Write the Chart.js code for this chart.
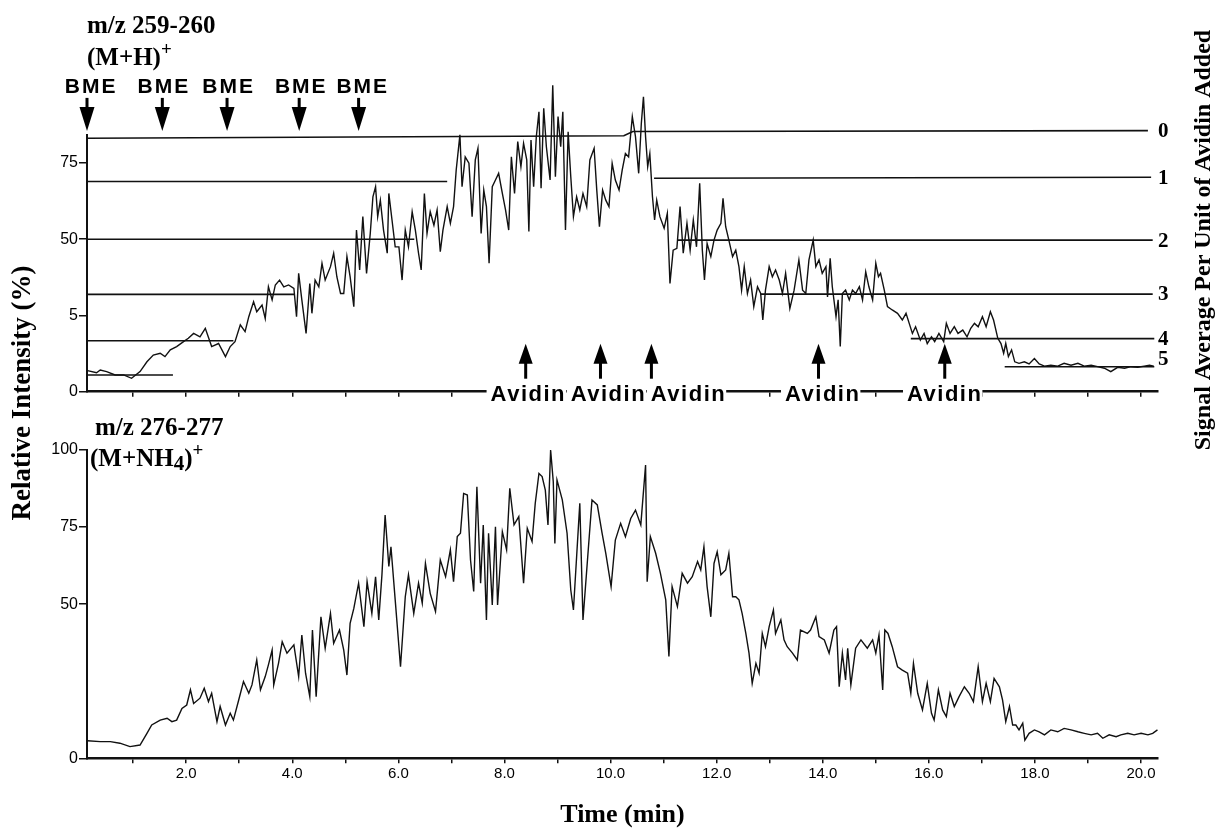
<!DOCTYPE html>
<html lang="en">
<head>
<meta charset="UTF-8">
<title>m/z 259-260 and 276-277 ion traces</title>
<script src="https://cdn.jsdelivr.net/npm/chart.js"></script>
<style>
  html, body { margin: 0; padding: 0; background: #fff; }
  #wrap { position: relative; width: 1215px; height: 829px; overflow: hidden; }
  #wrap canvas { position: absolute; left: 0; top: 0; }
</style>
</head>
<body>
<div id="wrap">
  <canvas id="bottomChart" width="1215" height="829"></canvas>
  <canvas id="topChart" width="1215" height="829"></canvas>
</div>
<script>
// time axis (min)
const timeMin = 0.13, timeMax = 20.32;
const timeTickValues = [1,2,3,4,5,6,7,8,9,10,11,12,13,14,15,16,17,18,19,20];
const timeTickLabels = ['','2.0','','4.0','','6.0','','8.0','','10.0','','12.0','','14.0','','16.0','','18.0','','20.0'];

// upper trace: m/z 259-260 (M+H)+
const mhTimes = [0.14,0.31,0.38,0.50,0.66,0.82,0.97,1.13,1.26,1.38,1.51,1.60,1.70,1.82,1.95,2.04,2.14,2.26,2.36,2.48,2.61,2.74,2.83,2.92,3.02,3.11,3.18,3.27,3.33,3.43,3.49,3.55,3.62,3.68,3.76,3.84,3.93,4.03,4.08,4.12,4.18,4.26,4.33,4.37,4.43,4.50,4.56,4.62,4.72,4.78,4.84,4.91,4.97,5.03,5.09,5.16,5.21,5.27,5.33,5.40,5.47,5.52,5.57,5.61,5.66,5.72,5.79,5.82,5.88,5.94,6.01,
  6.07,6.13,6.19,6.26,6.32,6.38,6.43,6.49,6.54,6.60,6.67,6.73,6.79,6.84,6.92,6.98,7.04,7.09,7.16,7.20,7.26,7.33,7.39,7.45,7.50,7.56,7.61,7.66,7.71,7.77,7.83,7.89,7.96,8.02,8.08,8.13,8.19,8.25,8.31,8.36,8.42,8.46,8.50,8.55,8.60,8.65,8.69,8.74,8.79,8.86,8.91,8.96,9.01,9.06,9.10,9.15,9.20,9.25,9.30,9.36,9.42,9.48,9.55,9.61,9.69,9.74,9.79,9.85,9.91,9.97,10.03,10.09,10.16,10.22,10.28,10.34,10.41,10.47,10.53,10.58,10.62,10.66,10.70,10.74,10.79,10.83,10.87,10.93,11.01,11.07,11.12,11.18,11.25,11.31,11.37,11.44,11.50,11.56,11.62,11.68,11.73,11.77,11.82,11.89,11.95,12.01,12.08,12.12,12.17,12.23,12.30,12.36,12.42,12.47,12.52,12.58,12.64,12.70,12.77,12.83,12.87,12.92,12.99,13.05,13.11,13.18,13.24,13.30,13.38,13.46,13.55,13.62,13.68,
  13.74,13.82,13.87,13.93,13.99,14.06,14.09,14.14,14.18,14.25,14.29,14.33,14.37,14.43,14.50,14.56,14.62,14.69,14.75,14.81,14.87,14.94,15.00,15.05,15.09,15.16,15.22,15.31,15.41,15.50,15.57,15.63,15.69,15.75,15.84,15.91,15.97,16.05,16.11,16.19,16.28,16.33,16.40,16.48,16.55,16.64,16.72,16.79,16.86,16.93,17.01,17.08,17.16,17.22,17.30,17.36,17.41,17.45,17.50,17.56,17.62,17.70,17.80,17.89,17.99,18.08,18.18,18.30,18.43,18.55,18.68,18.81,18.93,19.06,19.18,19.31,19.43,19.56,19.69,19.81,19.94,20.06,20.16,20.24];
const mhIntensity = [6.9,6.2,7.1,6.6,5.5,5.5,4.4,6.6,9.8,12.0,12.6,11.5,13.7,14.8,16.4,17.5,19.1,18.0,20.8,14.8,15.8,11.5,14.8,16.4,21.9,19.7,24.6,29.5,26.2,28.4,24.0,34.4,30.1,35.0,36.6,34.4,35.0,33.9,24.6,38.8,30.1,19.1,35.5,25.7,36.6,34.4,42.1,36.6,41.0,45.4,37.7,32.2,32.2,44.3,37.7,27.9,53.0,39.9,57.4,38.8,51.9,63.9,67.2,57.4,62.8,53.0,45.4,65.0,56.3,47.5,47.5,
  36.6,53.0,47.5,59.0,53.0,45.4,39.9,65.0,51.9,59.0,54.6,59.6,45.9,53.0,60.7,55.2,60.7,72.7,84.2,67.2,77.0,74.9,57.4,76.0,79.8,51.9,66.1,60.7,42.1,67.2,69.4,71.6,65.0,59.6,53.0,77.0,65.0,82.0,73.8,81.4,76.0,52.5,82.5,67.2,83.6,91.8,66.7,92.9,80.3,69.4,100.5,70.5,90.2,80.3,91.8,53.0,85.2,70.5,57.4,63.9,59.6,65.0,60.7,76.0,79.8,66.1,54.1,66.1,62.8,60.7,74.9,69.4,66.1,72.7,78.1,77.0,90.2,83.6,71.6,88.0,96.7,83.6,73.8,78.1,63.9,56.3,62.8,57.4,53.6,58.5,35.5,46.4,47.0,60.7,45.4,55.2,46.4,56.3,47.5,68.3,46.4,36.6,48.6,44.3,49.7,53.0,55.2,63.4,54.1,49.7,44.3,46.4,41.0,33.3,41.0,32.2,36.6,27.9,34.4,32.2,23.5,33.3,41.0,37.7,39.9,36.6,32.2,38.8,27.3,33.3,43.2,33.3,32.2,
  43.2,49.7,41.0,43.2,38.8,41.0,31.1,43.7,34.4,24.6,30.1,14.8,32.2,33.3,30.1,33.3,32.2,34.4,30.1,39.3,34.4,30.1,42.1,37.7,38.8,33.3,27.9,26.8,25.7,23.5,25.7,22.4,19.1,21.3,16.9,19.1,15.8,18.0,16.4,19.1,16.4,22.4,19.1,21.3,19.1,20.2,18.0,20.8,22.4,21.3,24.6,21.3,26.2,23.5,17.5,15.8,12.6,15.8,11.5,13.7,9.8,9.3,9.8,9.1,10.9,9.1,8.4,8.7,8.4,9.3,8.7,9.3,8.4,8.7,8.2,7.7,6.6,8.0,7.7,8.2,8.0,8.4,8.7,8.4];
const mhTickValues = [0, 25, 50, 75];
const mhTickLabels = ['0', '5', '50', '75'];

// signal-average levels 0..5 drawn across the upper trace
const levelSegTimes = [[0.13,10.25,10.42,20.13],[0.13,6.92],[10.82,20.19],[0.13,6.30],[11.26,20.22],[0.13,4.05],[12.83,20.22],[0.13,2.89],[15.66,20.25],[0.13,1.75],[17.43,20.25]];
const levelSegValues = [[83.1,83.9,85.3,85.6],[68.9,68.9],[70.0,70.3],[50.0,50.0],[49.7,49.7],[31.9,31.9],[32.0,32.0],[16.7,16.7],[17.4,17.4],[5.5,5.5],[8.2,8.2]];
const levelTickValues = [85.4, 70.0, 49.2, 31.7, 17.0, 10.4];
const levelTickLabels = ['0', '1', '2', '3', '4', '5'];

// additions
const bmeArrowTimes = [0.13, 1.55, 2.77, 4.13, 5.25];
const bmeLabelTimes = [0.19, 1.56, 2.78, 4.15, 5.31];
const avidinArrowTimes = [8.40, 9.81, 10.77, 13.92, 16.30];
const avidinLabelTimes = [8.43, 9.94, 11.45, 13.98, 16.28];

// lower trace: m/z 276-277 (M+NH4)+
const nh4Times = [0.14,0.38,0.57,0.75,0.94,1.13,1.26,1.35,1.51,1.64,1.73,1.82,1.92,2.01,2.08,2.14,2.26,2.34,2.42,2.48,2.58,2.64,2.74,2.83,2.89,2.99,3.08,3.18,3.24,3.33,3.40,3.49,3.55,3.62,3.65,3.74,3.81,3.90,4.03,4.12,4.18,4.25,4.33,4.38,4.45,4.54,4.62,4.72,4.78,4.89,4.97,5.03,5.09,5.16,5.25,5.35,5.41,5.50,5.57,5.63,5.69,5.75,5.82,5.86,5.94,6.04,
  6.13,6.19,6.29,6.38,6.45,6.51,6.60,6.70,6.79,6.89,6.98,7.04,7.11,7.17,7.23,7.30,7.36,7.42,7.48,7.55,7.60,7.66,7.70,7.77,7.83,7.87,7.96,8.04,8.10,8.18,8.27,8.36,8.43,8.52,8.58,8.65,8.71,8.77,8.82,8.87,8.92,8.95,8.99,9.09,9.18,9.25,9.30,9.36,9.42,9.48,9.56,9.65,9.75,9.84,9.91,10.01,10.09,10.19,10.28,10.38,10.47,10.57,10.66,10.69,10.75,10.85,10.94,11.04,11.10,11.16,11.26,11.35,11.45,11.54,11.64,11.70,11.76,11.82,11.89,11.95,12.01,12.08,12.17,12.23,12.30,12.36,12.42,12.48,12.55,12.61,12.67,12.74,12.80,12.86,12.92,12.99,13.07,13.11,13.21,13.27,13.33,13.43,13.52,13.58,
  13.71,13.77,13.87,13.93,14.03,14.12,14.21,14.26,14.31,14.37,14.43,14.47,14.53,14.62,14.72,14.84,14.94,15.00,15.06,15.13,15.17,15.23,15.31,15.41,15.50,15.60,15.66,15.71,15.79,15.88,15.97,16.05,16.10,16.18,16.26,16.33,16.40,16.48,16.57,16.67,16.76,16.84,16.93,17.01,17.08,17.16,17.23,17.33,17.39,17.45,17.52,17.58,17.64,17.70,17.77,17.81,17.89,17.99,18.08,18.18,18.30,18.43,18.55,18.68,18.81,18.93,19.06,19.18,19.28,19.40,19.53,19.62,19.75,19.87,20.00,20.13,20.22,20.31];
const nh4Intensity = [5.7,5.4,5.4,4.9,3.8,4.3,8.1,10.8,12.4,13.0,11.9,12.4,16.2,17.3,22.2,17.8,19.5,22.7,18.4,21.1,11.9,16.8,10.8,14.6,12.4,18.9,24.9,21.1,23.8,31.9,22.2,26.5,30.3,35.1,23.8,30.8,37.8,34.1,36.8,26.5,40.0,27.6,20.0,41.6,20.0,45.9,35.7,47.0,37.3,41.6,35.1,27.0,43.8,48.6,56.8,42.7,57.3,47.0,58.9,44.9,59.5,78.9,62.2,68.6,51.4,29.7,
  52.4,59.5,47.0,56.8,50.3,63.2,53.5,47.6,64.3,58.9,67.6,57.3,71.9,73.0,85.9,85.4,64.3,54.1,88.1,56.8,75.7,44.9,73.0,49.7,75.1,49.7,73.5,67.6,87.6,75.7,78.4,56.8,74.6,70.3,82.7,92.4,91.4,87.0,75.7,100.0,89.7,69.7,90.3,83.8,73.0,54.6,48.1,65.4,82.7,44.9,63.2,83.8,82.2,73.0,66.5,55.7,70.8,76.2,71.9,77.8,80.5,75.7,95.1,57.3,71.9,66.5,60.0,51.4,33.0,55.7,49.2,60.0,56.8,58.9,63.8,61.1,68.6,55.7,45.9,63.2,67.0,59.5,61.1,66.5,52.4,52.4,51.4,47.0,40.5,34.1,24.3,30.8,27.6,40.5,36.2,42.7,48.1,40.5,44.9,38.4,36.2,34.1,31.9,41.6,
  40.5,41.6,45.9,39.5,38.4,34.1,41.6,42.7,23.2,34.1,25.4,35.7,23.8,35.7,38.4,35.7,38.4,34.1,40.0,22.2,41.6,40.5,36.2,29.7,28.6,27.6,21.1,30.8,21.1,15.7,24.3,14.6,12.4,22.2,15.7,13.5,21.1,16.8,20.0,23.2,21.1,18.4,29.7,18.4,24.3,18.4,25.9,23.2,18.9,11.9,16.8,10.8,10.8,9.2,11.4,5.9,8.1,9.2,8.6,7.6,9.2,8.6,9.7,9.2,8.6,8.1,7.6,8.1,6.5,7.6,7.0,7.6,8.1,7.6,8.1,7.6,8.1,9.2];
const nh4TickValues = [0, 50, 75, 100];
const nh4TickLabels = ['0', '50', '75', '100'];

const INK = '#111';
const serif = '"Liberation Serif", "Times New Roman", serif';
const sans = '"Liberation Sans", Arial, Helvetica, sans-serif';
Chart.defaults.font.family = sans;
Chart.defaults.color = '#000';

function toPoints(ts, vs) {
  return ts.map((t, i) => ({ x: t, y: vs[i] }));
}

function timeAxis(showLabels, height) {
  return {
    type: 'linear', min: timeMin, max: timeMax,
    afterBuildTicks: s => { s.ticks = timeTickValues.map(v => ({ value: v })); },
    ticks: {
      autoSkip: false, maxRotation: 0, padding: 2, font: { size: 15 },
      callback: (v, i) => showLabels ? timeTickLabels[i] : ''
    },
    grid: { drawOnChartArea: false, tickLength: 5, color: INK, lineWidth: 1.5 },
    border: { color: INK, width: 2.5 },
    afterFit: s => { s.height = height; }
  };
}

function downArrow(ctx, x, yTop, yTip) {
  const headLen = 24, half = 7.5;
  ctx.fillRect(x - 1.5, yTop, 3, yTip - headLen - yTop + 1);
  ctx.beginPath();
  ctx.moveTo(x - half, yTip - headLen);
  ctx.lineTo(x + half, yTip - headLen);
  ctx.lineTo(x, yTip);
  ctx.closePath();
  ctx.fill();
}

function upArrow(ctx, x, yTip, yBottom) {
  const headLen = 20, half = 7;
  ctx.fillRect(x - 1.5, yTip + headLen - 1, 3, yBottom - yTip - headLen + 1);
  ctx.beginPath();
  ctx.moveTo(x - half, yTip + headLen);
  ctx.lineTo(x + half, yTip + headLen);
  ctx.lineTo(x, yTip);
  ctx.closePath();
  ctx.fill();
}

// text with superscript / subscript pieces
function richText(ctx, parts, x, y) {
  let cx = x;
  parts.forEach(p => {
    ctx.font = p.font;
    ctx.fillText(p.text, cx, y + (p.dy || 0));
    cx += ctx.measureText(p.text).width;
  });
}

const topDecor = {
  id: 'topDecor',
  afterDraw(chart) {
    const { ctx, chartArea } = chart;
    const x = chart.scales.x;
    ctx.save();
    ctx.fillStyle = '#000';

    // BME additions
    bmeArrowTimes.forEach(t => downArrow(ctx, x.getPixelForValue(t), chartArea.top - 37, chartArea.top - 4));
    ctx.font = 'bold 21px ' + sans;
    ctx.letterSpacing = '2px';
    ctx.textAlign = 'center';
    ctx.textBaseline = 'middle';
    bmeLabelTimes.forEach(t => ctx.fillText('BME', x.getPixelForValue(t) + 1, chartArea.top - 48));

    // Avidin additions, labels break the axis line
    avidinArrowTimes.forEach(t => upArrow(ctx, x.getPixelForValue(t), chartArea.bottom - 48, chartArea.bottom - 13));
    ctx.font = 'bold 22px ' + sans;
    ctx.letterSpacing = '1.5px';
    const w = ctx.measureText('Avidin').width;
    ctx.fillStyle = '#fff';
    avidinLabelTimes.forEach(t => {
      ctx.fillRect(x.getPixelForValue(t) - w / 2 - 3, chartArea.bottom - 6, w + 4, 14);
    });
    ctx.fillStyle = '#000';
    avidinLabelTimes.forEach(t => ctx.fillText('Avidin', x.getPixelForValue(t) + 1, chartArea.bottom + 3));
    ctx.letterSpacing = '0px';

    // panel title
    ctx.textAlign = 'left';
    ctx.textBaseline = 'alphabetic';
    ctx.font = 'bold 25px ' + serif;
    ctx.fillText('m/z 259-260', 87, 33);
    richText(ctx, [
      { text: '(M+H)', font: 'bold 25px ' + serif },
      { text: '+', font: 'bold 19px ' + serif, dy: -10 }
    ], 87, 65);

    // shared axis titles
    ctx.textAlign = 'center';
    ctx.textBaseline = 'middle';
    ctx.save();
    ctx.translate(23, 393);
    ctx.rotate(-Math.PI / 2);
    ctx.font = 'bold 27px ' + serif;
    ctx.fillText('Relative Intensity (%)', 0, 0);
    ctx.restore();
    ctx.save();
    ctx.translate(1204, 240);
    ctx.rotate(-Math.PI / 2);
    ctx.font = 'bold 24px ' + serif;
    ctx.fillText('Signal Average Per Unit of Avidin Added', 0, 0);
    ctx.restore();
    ctx.restore();
  }
};

const bottomDecor = {
  id: 'bottomDecor',
  afterDraw(chart) {
    const { ctx, chartArea } = chart;
    ctx.save();
    ctx.fillStyle = '#000';
    ctx.textAlign = 'left';
    ctx.textBaseline = 'alphabetic';
    ctx.font = 'bold 25px ' + serif;
    ctx.fillText('m/z 276-277', 95, 435);
    richText(ctx, [
      { text: '(M+NH', font: 'bold 25px ' + serif },
      { text: '4', font: 'bold 21px ' + serif, dy: 4 },
      { text: ')', font: 'bold 25px ' + serif },
      { text: '+', font: 'bold 19px ' + serif, dy: -10 }
    ], 90, 466);
    ctx.textAlign = 'center';
    ctx.textBaseline = 'middle';
    ctx.font = 'bold 26px ' + serif;
    ctx.fillText('Time (min)', (chartArea.left + chartArea.right) / 2, 815);
    ctx.restore();
  }
};

const traceStyle = { borderColor: INK, borderWidth: 1.4, pointRadius: 0, tension: 0, clip: false };

// lower panel
new Chart(document.getElementById('bottomChart'), {
  type: 'line',
  data: {
    datasets: [Object.assign({ data: toPoints(nh4Times, nh4Intensity) }, traceStyle)]
  },
  options: {
    responsive: false, animation: false, devicePixelRatio: 1, events: [],
    layout: { padding: { top: 450, left: 42, right: 57, bottom: 30.7 } },
    plugins: { legend: { display: false }, tooltip: { enabled: false } },
    scales: {
      x: timeAxis(true, 40),
      y: {
        min: 0, max: 100,
        afterBuildTicks: s => { s.ticks = nh4TickValues.map(v => ({ value: v })); },
        ticks: { padding: 1, font: { size: 16 }, callback: (v, i) => nh4TickLabels[i] },
        grid: { drawOnChartArea: false, tickLength: 8, color: INK, lineWidth: 1.5 },
        border: { color: INK, width: 2 },
        afterFit: s => { s.width = 45; }
      }
    }
  },
  plugins: [bottomDecor]
});

// upper panel
const levelSets = levelSegTimes.map((ts, i) => Object.assign(
  { data: toPoints(ts, levelSegValues[i]) }, traceStyle, { borderWidth: 1.6 }));

new Chart(document.getElementById('topChart'), {
  type: 'line',
  data: {
    datasets: [Object.assign({ data: toPoints(mhTimes, mhIntensity) }, traceStyle)].concat(levelSets)
  },
  options: {
    responsive: false, animation: false, devicePixelRatio: 1, events: [],
    layout: { padding: { top: 134.9, left: 42, right: 0, bottom: 417.3 } },
    plugins: { legend: { display: false }, tooltip: { enabled: false } },
    scales: {
      x: timeAxis(false, 20),
      y: {
        min: 0, max: 84.2,
        afterBuildTicks: s => { s.ticks = mhTickValues.map(v => ({ value: v })); },
        ticks: { padding: 1, font: { size: 16 }, callback: (v, i) => mhTickLabels[i] },
        grid: { drawOnChartArea: false, tickLength: 8, color: INK, lineWidth: 1.5 },
        border: { color: INK, width: 2 },
        afterFit: s => { s.width = 45; }
      },
      y2: {
        position: 'right', min: 0, max: 84.2,
        afterBuildTicks: s => { s.ticks = levelTickValues.map(v => ({ value: v })); },
        ticks: { padding: 0, font: { size: 21, weight: 'bold', family: serif }, callback: (v, i) => levelTickLabels[i] },
        grid: { display: false, drawTicks: false },
        border: { display: false },
        afterFit: s => { s.width = 57; }
      }
    }
  },
  plugins: [topDecor]
});
</script>
</body>
</html>
